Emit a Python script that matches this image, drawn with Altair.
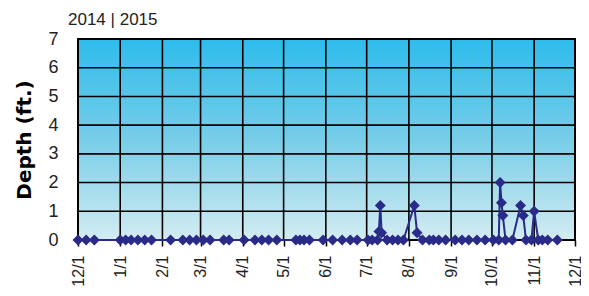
import altair as alt
import pandas as pd

# ---- data ----
dates = [
    "2014-12-01", "2014-12-07", "2014-12-13",
    "2015-01-01", "2015-01-05", "2015-01-09", "2015-01-14", "2015-01-19", "2015-01-24",
    "2015-02-07", "2015-02-16", "2015-02-21", "2015-02-26", "2015-03-03", "2015-03-08",
    "2015-03-18", "2015-03-22", "2015-04-02", "2015-04-10", "2015-04-15", "2015-04-20",
    "2015-04-26", "2015-05-10", "2015-05-13", "2015-05-16", "2015-05-20", "2015-05-30",
    "2015-06-06", "2015-06-13", "2015-06-19", "2015-06-24",
    "2015-07-02", "2015-07-05", "2015-07-09", "2015-07-10", "2015-07-11", "2015-07-12",
    "2015-07-16", "2015-07-20", "2015-07-24", "2015-07-28",
    "2015-08-05", "2015-08-07", "2015-08-11", "2015-08-16", "2015-08-19", "2015-08-23",
    "2015-08-28", "2015-09-04", "2015-09-09", "2015-09-14", "2015-09-20", "2015-09-26",
    "2015-10-02", "2015-10-06", "2015-10-07", "2015-10-08", "2015-10-09", "2015-10-11",
    "2015-10-16", "2015-10-22", "2015-10-24", "2015-10-26", "2015-10-30", "2015-11-01",
    "2015-11-04", "2015-11-07", "2015-11-11", "2015-11-18",
]
depths = [
    0, 0, 0,
    0, 0, 0, 0, 0, 0,
    0, 0, 0, 0, 0, 0,
    0, 0, 0, 0, 0, 0,
    0, 0, 0, 0, 0, 0,
    0, 0, 0, 0,
    0, 0, 0, 0.3, 1.2, 0.25,
    0, 0, 0, 0,
    1.2, 0.25, 0, 0, 0, 0,
    0, 0, 0, 0, 0, 0,
    0, 0, 2.0, 1.3, 0.85, 0,
    0, 1.2, 0.85, 0, 0, 1.0,
    0, 0, 0, 0,
]
tick_months = [(2014, 12), (2015, 1), (2015, 2), (2015, 3), (2015, 4), (2015, 5),
               (2015, 6), (2015, 7), (2015, 8), (2015, 9), (2015, 10), (2015, 11),
               (2015, 12)]
y_ticks = [0, 1, 2, 3, 4, 5, 6, 7]
y_grid = [1, 2, 3, 4, 5, 6]
year_label = "2014 | 2015"

df = pd.DataFrame({"date": [d + "T00:00:00" for d in dates], "depth": depths})
tick_df = pd.DataFrame({"date": ["%d-%02d-01T00:00:00" % (y, m) for y, m in tick_months]})
ygrid_df = pd.DataFrame({"depth": y_grid})

W, H = 497, 201
NAVY = "#2a2a88"
FONT = "Liberation Sans"

x_scale = alt.Scale(domain=[alt.DateTime(year=2014, month=12, date=1),
                            alt.DateTime(year=2015, month=12, date=1)])
y_scale = alt.Scale(domain=[0, 7], nice=False)

x_axis = alt.Axis(
    values=[alt.DateTime(year=y, month=m, date=1) for y, m in tick_months],
    format="%-m/%-d", labelAngle=270, labelFont=FONT, labelFontSize=16,
    labelColor="#222", labelPadding=9, tickColor="black", tickSize=6,
    tickWidth=1.5, domain=False, grid=False, title=None, labelOverlap=False)
y_axis = alt.Axis(
    values=y_ticks, labelFont=FONT, labelFontSize=18,
    labelColor="#222", labelPadding=20, ticks=False, domain=False, grid=False,
    title="Depth (ft.)", titleFont="DejaVu Sans", titleFontSize=20,
    titleFontWeight="bold", titleColor="black", titlePadding=13)

X = alt.X("date:T", scale=x_scale, axis=x_axis)
Y = alt.Y("depth:Q", scale=y_scale, axis=y_axis)

bg = alt.Chart(alt.Data(values=[{}])).mark_rect(
    fill=alt.Gradient(
        gradient="linear",
        stops=[alt.GradientStop(color="#2dbcec", offset=0),
               alt.GradientStop(color="#78cde8", offset=0.5),
               alt.GradientStop(color="#d3ecf2", offset=1)],
        x1=0, x2=0, y1=0, y2=1),
    stroke="black", strokeWidth=2,
).encode(x=alt.value(0), x2=alt.value(W), y=alt.value(0), y2=alt.value(H))

vgrid = alt.Chart(tick_df).mark_rule(color="black", strokeWidth=1.6).encode(x=X)
hgrid = alt.Chart(ygrid_df).mark_rule(color="black", strokeWidth=1.6).encode(y=Y)

line = alt.Chart(df).mark_line(color=NAVY, strokeWidth=2).encode(x=X, y=Y)
pts = alt.Chart(df).mark_point(shape="diamond", filled=True, color=NAVY,
                               size=120, opacity=1).encode(x=X, y=Y)

top_text = alt.Chart(alt.Data(values=[{"t": year_label}])).mark_text(
    align="left", baseline="alphabetic", font=FONT, fontSize=17, color="#222"
).encode(x=alt.value(-10), y=alt.value(-14), text="t:N")

chart = alt.layer(bg, vgrid, hgrid, line, pts, top_text).properties(
    width=W, height=H,
    autosize=alt.AutoSizeParams(type="none"),
    padding={"left": 70, "top": 31, "right": 6, "bottom": 48},
).configure_view(stroke=None)

chart.save("out.html", embed_options={"renderer": "svg", "actions": False})
